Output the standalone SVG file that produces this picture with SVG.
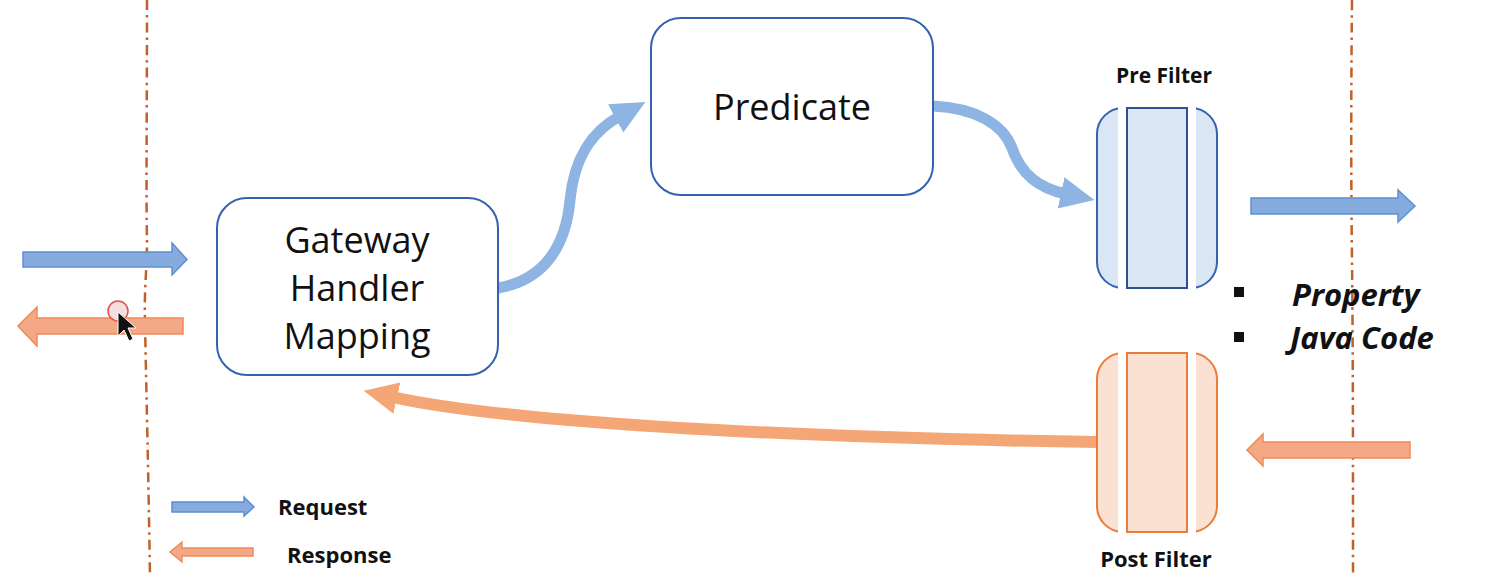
<svg xmlns="http://www.w3.org/2000/svg" width="1497" height="577" viewBox="0 0 1497 577">
<defs>
<style>
.box{fill:#ffffff;stroke:#3461b0;stroke-width:2}
.lbl{font-family:"Open Sans","Liberation Sans",sans-serif;font-size:36px;fill:#111;text-anchor:middle}
.bold{font-family:"Open Sans","Liberation Sans",sans-serif;font-weight:bold;fill:#111}
.bi{font-family:"Open Sans","Liberation Sans",sans-serif;font-weight:bold;font-style:italic;font-size:31px;fill:#111}
.bound{fill:none;stroke:#c0602a;stroke-width:2.5;stroke-dasharray:10 5 2.5 5}
.req{fill:#86acdf;stroke:#5f8fd2;stroke-width:1.5}
.resp{fill:#f4a886;stroke:#ee8a58;stroke-width:1.5}
.curveB{fill:none;stroke:#8db4e2;stroke-width:11}
.curveO{fill:none;stroke:#f4a676;stroke-width:12}
</style>
<marker id="headB" markerUnits="userSpaceOnUse" markerWidth="40" markerHeight="40" viewBox="0 0 40 40" refX="5" refY="20" orient="auto">
<polygon points="0,4 34,20 0,36" fill="#8db4e2"/>
</marker>
<marker id="headO" markerUnits="userSpaceOnUse" markerWidth="40" markerHeight="40" viewBox="0 0 40 40" refX="5" refY="20" orient="auto">
<polygon points="0,4 34,20 0,36" fill="#f4a676"/>
</marker>
</defs>
<rect width="1497" height="577" fill="#ffffff"/>

<g id="boundaries">
<path class="bound" d="M147,0 C147,100 146,200 147,240 C147,270 144,290 145,320 C146,380 148,450 150,577"/>
<path class="bound" d="M1352,0 C1351,100 1351,180 1352,260 C1353,350 1353,450 1353,577"/>
</g>

<g id="connectors">
<path class="curveB" d="M498,288 C545,280 566,245 570,200 C575,150 598,128 620,116" marker-end="url(#headB)"/>
<path class="curveB" d="M933,106 C975,108 1003,124 1012,148 C1021,174 1038,188 1066,194" marker-end="url(#headB)"/>
<path class="curveO" d="M1097,442 C820,438 520,425 392,397" marker-end="url(#headO)"/>
</g>

<g id="io-arrows">
<polygon class="req" points="23,252 172,252 172,243 187,259.5 172,275 172,267 23,267"/>
<polygon class="resp" points="183,318 37,318 37,307 18,326 37,346 37,334 183,334"/>
<polygon class="req" points="1251,198 1398,198 1398,190 1415,206 1398,222 1398,214 1251,214"/>
<polygon class="resp" points="1410,442 1263,442 1263,434 1247,450 1263,466 1263,458 1410,458"/>
</g>

<g id="gateway">
<rect class="box" x="217" y="198" width="281" height="177" rx="30"/>
<text class="lbl" x="357" y="253">Gateway</text>
<text class="lbl" x="357" y="301">Handler</text>
<text class="lbl" x="357" y="349">Mapping</text>
</g>

<g id="predicate">
<rect class="box" x="651" y="18" width="282" height="177" rx="30"/>
<text class="lbl" x="792" y="120">Predicate</text>
</g>

<g id="pre-filter">
<rect x="1097" y="108" width="120" height="180" rx="26" fill="#dbe6f5" stroke="#3461b0" stroke-width="2"/>
<rect x="1118" y="100" width="78" height="196" fill="#ffffff"/>
<rect x="1127" y="108" width="60" height="180" fill="#dbe6f5" stroke="#2f4f8f" stroke-width="2"/>
<text class="bold" x="1164" y="83" font-size="21" text-anchor="middle">Pre Filter</text>
</g>

<g id="post-filter">
<rect x="1097" y="353" width="120" height="179" rx="26" fill="#fbe1d2" stroke="#ea7c3c" stroke-width="2"/>
<rect x="1118" y="345" width="78" height="195" fill="#ffffff"/>
<rect x="1127" y="353" width="60" height="179" fill="#fbe1d2" stroke="#ea7c3c" stroke-width="2"/>
<text class="bold" x="1156" y="567" font-size="22" text-anchor="middle">Post Filter</text>
</g>

<g id="filter-types">
<rect x="1234" y="287" width="10" height="10" fill="#111"/>
<rect x="1234" y="332" width="10" height="10" fill="#111"/>
<text class="bi" x="1292" y="306">Property</text>
<text class="bi" x="1290" y="349">Java Code</text>
</g>

<g id="legend">
<polygon class="req" points="172,502 244,502 244,497 254,507 244,516 244,512 172,512"/>
<text class="bold" x="278" y="515" font-size="22">Request</text>
<polygon class="resp" points="253,548 182,548 182,542 170,552 182,562 182,556 253,556"/>
<text class="bold" x="287" y="563" font-size="22">Response</text>
</g>

<g id="cursor">
<circle cx="118" cy="311" r="10" fill="#f4dede" stroke="#e05050" stroke-width="1.5"/>
<polygon points="118,312 118,336 124,330 129,341 133,339 128,328 136,328" fill="#111" stroke="#ffffff" stroke-width="1"/>
</g>
</svg>
